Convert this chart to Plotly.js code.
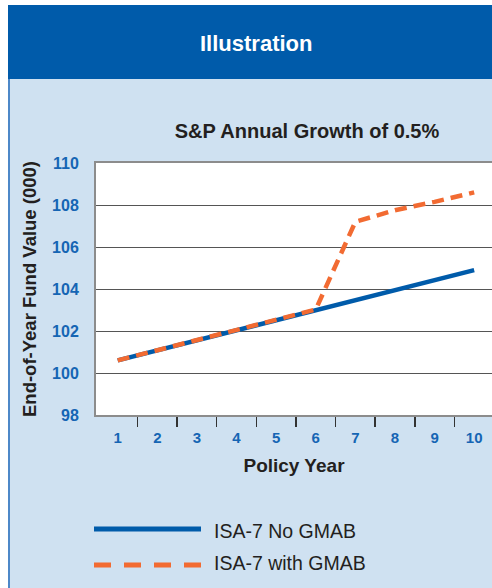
<!DOCTYPE html>
<html>
<head>
<meta charset="utf-8">
<script src="https://cdn.plot.ly/plotly-3.0.1.min.js"></script>
<style>html,body{margin:0;padding:0;background:#fff;}#chart{width:492px;height:588px;}</style>
</head>
<body>
<div id="chart"></div>
<script>
var years = [1, 2, 3, 4, 5, 6, 7, 8, 9, 10];
var noGmab = [100.6, 101.08, 101.56, 102.04, 102.53, 103.02, 103.48, 103.95, 104.42, 104.9];
var withGmab = [100.6, 101.08, 101.56, 102.04, 102.53, 103.02, 107.2, 107.75, 108.15, 108.6];
var seriesNames = ['ISA-7 No GMAB', 'ISA-7 with GMAB'];
var yTicks = [98, 100, 102, 104, 106, 108, 110];
var dividers = [1.5, 2.5, 3.5, 4.5, 5.5, 6.5, 7.5, 8.5, 9.5];

var W = 492, H = 588, L = 96, R = 0, T = 163, B = 173;
var pw = W - L - R, ph = H - T - B;
function px(x) { return (x - L) / pw; }
function py(y) { return (H - B - y) / ph; }

var FONT = '"Liberation Sans", Arial, Helvetica, sans-serif';
var BLUE = '#005baa', ORANGE = '#f26b32', DARK = '#231f20', TICKBLUE = '#1565b4';

var traces = [
  {x: years, y: noGmab, name: seriesNames[0], type: 'scatter', mode: 'lines',
   line: {color: BLUE, width: 4.5}, showlegend: false, hoverinfo: 'x+y'},
  {x: years, y: withGmab, name: seriesNames[1], type: 'scatter', mode: 'lines',
   line: {color: ORANGE, width: 4.5, dash: '12px,7px'}, showlegend: false, hoverinfo: 'x+y'}
];

var shapes = [
  {type: 'rect', xref: 'paper', yref: 'paper', x0: px(0), x1: px(W), y0: py(5), y1: py(0), fillcolor: '#ffffff', line: {width: 0}, layer: 'below'},
  {type: 'rect', xref: 'paper', yref: 'paper', x0: px(0), x1: px(8), y0: py(H), y1: py(0), fillcolor: '#ffffff', line: {width: 0}, layer: 'below'},
  {type: 'rect', xref: 'paper', yref: 'paper', x0: px(8), x1: px(W), y0: py(79), y1: py(5), fillcolor: BLUE, line: {width: 0}, layer: 'below'},
  {type: 'line', xref: 'paper', yref: 'paper', x0: px(9), x1: px(9), y0: py(H), y1: py(79), line: {color: '#4d88c8', width: 2}, layer: 'below'},
  {type: 'line', xref: 'paper', yref: 'paper', x0: px(94), x1: px(201), y0: py(529), y1: py(529), line: {color: BLUE, width: 5}},
  {type: 'line', xref: 'paper', yref: 'paper', x0: px(94), x1: px(201), y0: py(565), y1: py(565), line: {color: ORANGE, width: 5, dash: '17px,13px'}}
];

var annotations = [
  {text: 'Illustration', xref: 'paper', yref: 'paper', x: px(256), y: py(44), showarrow: false,
   xanchor: 'center', yanchor: 'middle', font: {family: FONT, size: 22, color: '#ffffff', weight: 'bold'}},
  {text: seriesNames[0], xref: 'paper', yref: 'paper', x: px(212), y: py(531), showarrow: false,
   xanchor: 'left', yanchor: 'middle', font: {family: FONT, size: 19.5, color: DARK}},
  {text: seriesNames[1], xref: 'paper', yref: 'paper', x: px(212), y: py(563), showarrow: false,
   xanchor: 'left', yanchor: 'middle', font: {family: FONT, size: 19.5, color: DARK}}
];

var layout = {
  width: W, height: H,
  margin: {l: L, r: R, t: T, b: B, pad: 0},
  paper_bgcolor: '#cfe1f1',
  plot_bgcolor: '#ffffff',
  font: {family: FONT, color: DARK},
  title: {text: 'S&P Annual Growth of 0.5%', xref: 'paper', x: px(307), xanchor: 'center',
          yref: 'container', y: 1 - 131 / H, yanchor: 'middle',
          font: {family: FONT, size: 20, color: DARK, weight: 'bold'}},
  xaxis: {
    range: [0.452, 10.45], tickmode: 'array', tickvals: years, ticktext: years.map(String),
    ticks: '', ticklabelstandoff: 8,
    tickfont: {family: FONT, size: 15, color: TICKBLUE, weight: 'bold'},
    showgrid: false, zeroline: false,
    showline: true, mirror: true, linecolor: '#8c8c8c', linewidth: 2,
    minor: {tickmode: 'array', tickvals: dividers, ticks: 'outside', ticklen: 10, tickwidth: 1.5, tickcolor: '#333333', showgrid: false},
    title: {text: 'Policy Year', standoff: 14, font: {family: FONT, size: 19, color: DARK, weight: 'bold'}},
    fixedrange: true
  },
  yaxis: {
    range: [98, 110], tickmode: 'array', tickvals: yTicks, ticks: '', ticklabelstandoff: 12,
    tickfont: {family: FONT, size: 16, color: TICKBLUE, weight: 'bold'},
    showgrid: true, gridcolor: '#555555', gridwidth: 1, zeroline: false,
    showline: true, linecolor: '#8c8c8c', linewidth: 2,
    title: {text: 'End-of-Year Fund Value (000)', standoff: 11, font: {family: FONT, size: 18.5, color: DARK, weight: 'bold'}},
    fixedrange: true
  },
  shapes: shapes,
  annotations: annotations,
  showlegend: false
};

Plotly.newPlot('chart', traces, layout, {displayModeBar: false, staticPlot: true});
</script>
</body>
</html>
